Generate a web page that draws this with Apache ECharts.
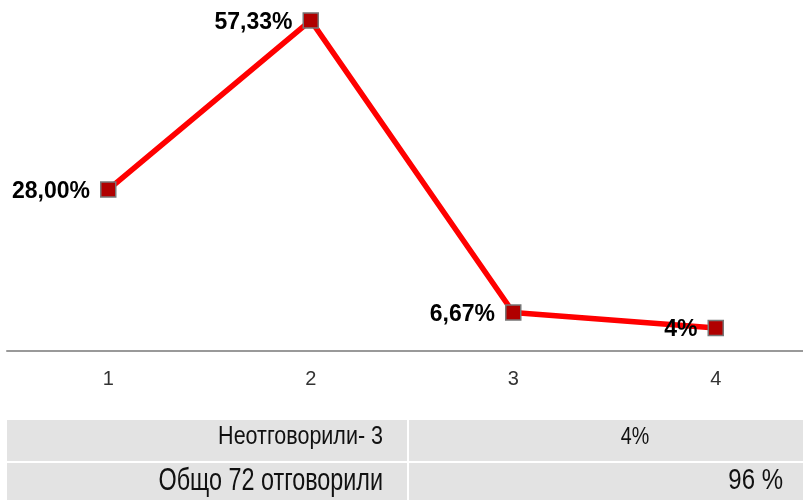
<!DOCTYPE html>
<html><head><meta charset="utf-8">
<script src="https://cdn.jsdelivr.net/npm/echarts@6/dist/echarts.min.js"></script>
<style>html,body{margin:0;padding:0;background:#fff}#c{width:803px;height:500px}</style>
</head><body><div id="c"></div>
<script>
var categories = ['1', '2', '3', '4'];
var values = [28.00, 57.33, 6.67, 4];
var valueLabels = ['28,00%', '57,33%', '6,67%', '4%'];
var tableRow1 = ['Неотговорили- 3', '4%'];
var tableRow2 = ['Общо 72 отговорили', '96 %'];

var chart = echarts.init(document.getElementById('c'), null, {renderer: 'canvas'});
var fam = "'Liberation Sans', Arial, sans-serif";
function cell(txt, x, y, align, size, sx, sy) {
  return {type: 'text', x: x, y: y, scaleX: sx, scaleY: sy, z: 10,
    style: {text: txt, align: align, verticalAlign: 'middle', fill: '#111', font: size + 'px ' + fam}};
}
chart.setOption({
  animation: false,
  grid: {left: 7, width: 810, top: 5, bottom: 149, containLabel: false, outerBoundsMode: 'none'},
  xAxis: {
    type: 'category', data: categories, boundaryGap: true,
    axisLine: {lineStyle: {color: '#999', width: 2}},
    axisTick: {show: false},
    axisLabel: {color: '#333', fontSize: 20, fontFamily: 'Liberation Sans', margin: 18}
  },
  yAxis: {type: 'value', min: 0, max: 60, show: false, splitLine: {show: false}},
  series: [{
    type: 'line', data: values,
    symbol: 'rect', symbolSize: 15,
    lineStyle: {color: '#ff0000', width: 5.5},
    itemStyle: {color: '#b00000', borderColor: '#777', borderWidth: 1.5},
    label: {
      show: true, position: 'left', distance: 10, offset: [0, 2],
      formatter: function (p) { return valueLabels[p.dataIndex]; },
      color: '#000', fontWeight: 'bold', fontSize: 23, fontFamily: 'Liberation Sans'
    }
  }],
  graphic: [
    {type: 'rect', shape: {x: 7, y: 420, width: 400, height: 41}, style: {fill: '#e3e3e3'}},
    {type: 'rect', shape: {x: 409, y: 420, width: 394, height: 41}, style: {fill: '#e3e3e3'}},
    {type: 'rect', shape: {x: 7, y: 463, width: 400, height: 37}, style: {fill: '#e3e3e3'}},
    {type: 'rect', shape: {x: 409, y: 463, width: 394, height: 37}, style: {fill: '#e3e3e3'}},
    cell(tableRow1[0], 383, 437, 'right', 25, 0.86, 1),
    cell(tableRow1[1], 635, 437, 'center', 24, 0.82, 1),
    cell(tableRow2[0], 383, 481, 'right', 32, 0.73, 1),
    cell(tableRow2[1], 783, 481, 'right', 30, 0.8, 1)
  ]
});
</script></body></html>
